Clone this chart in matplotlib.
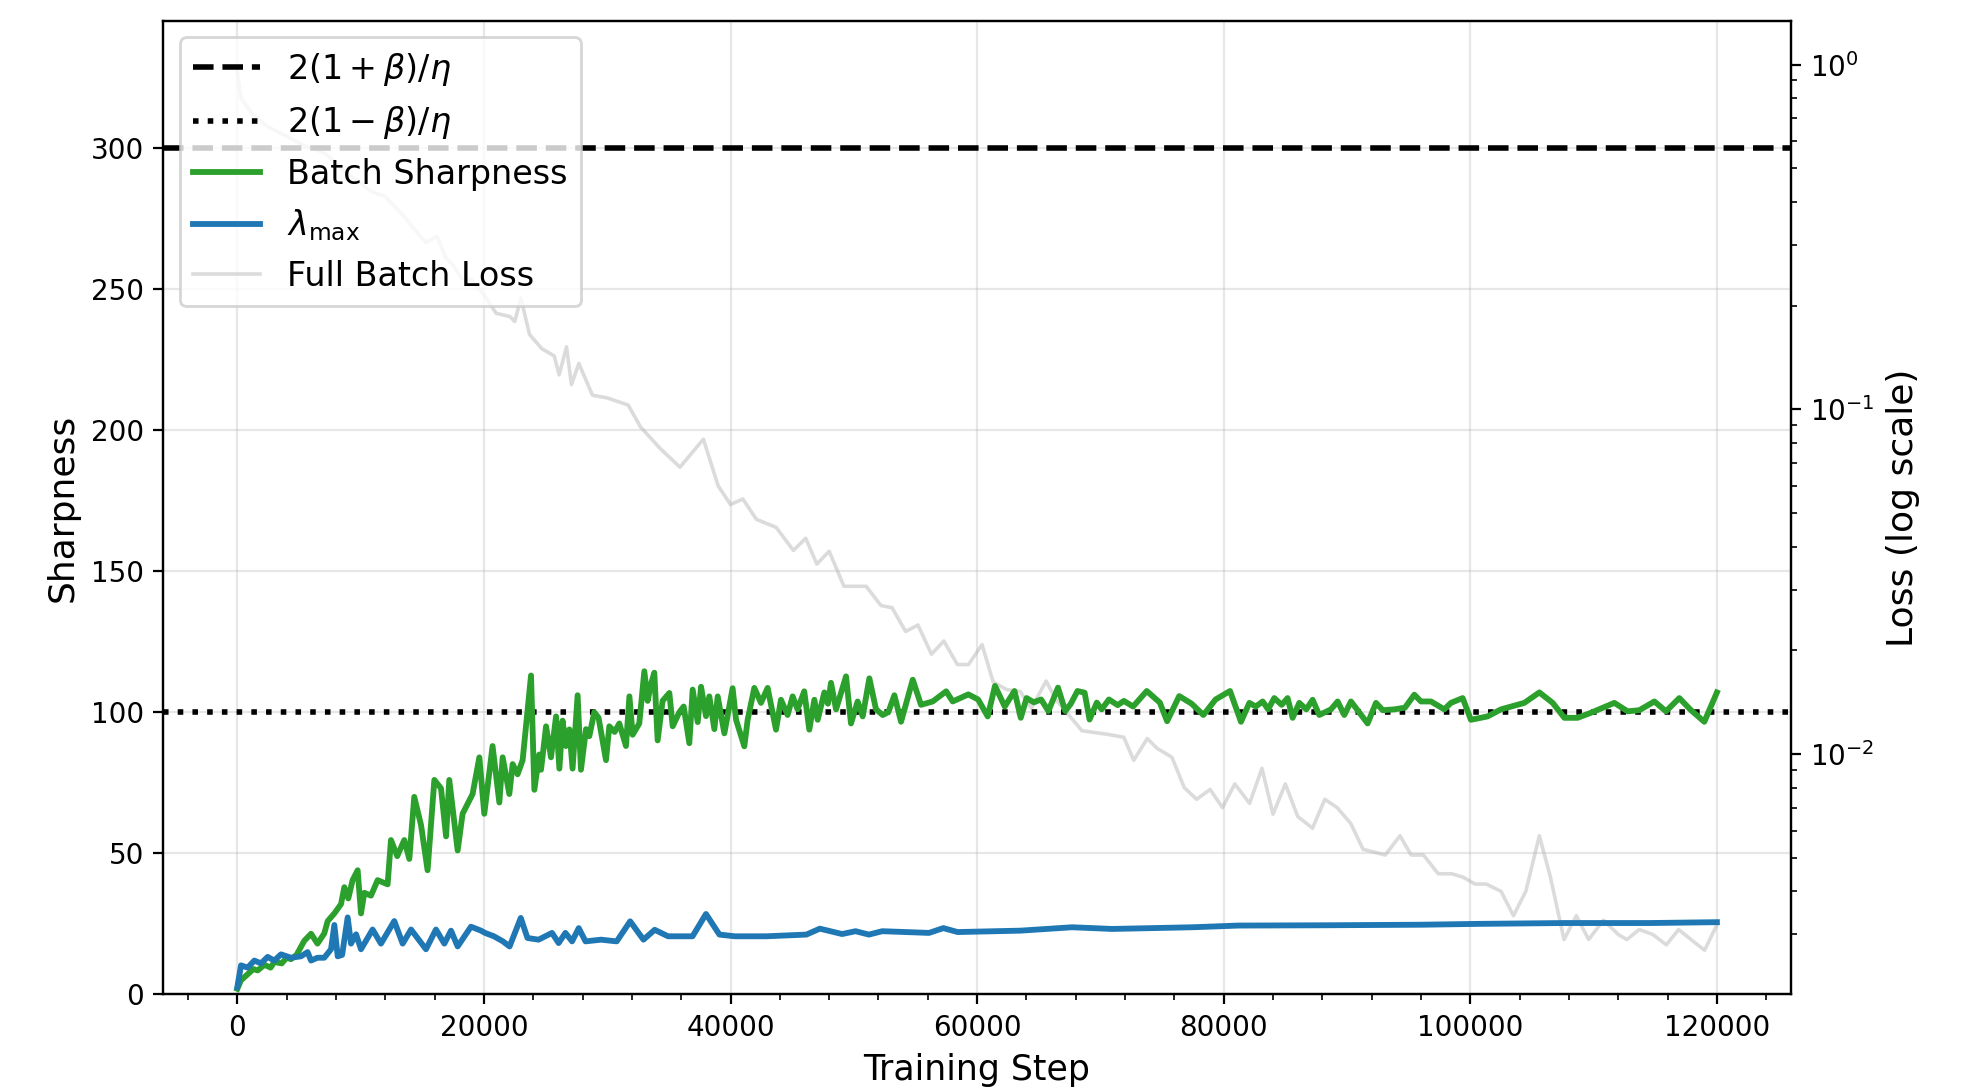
import numpy as np
import matplotlib.pyplot as plt
from matplotlib.ticker import MultipleLocator

# Batch sharpness (green)
sharp_steps = [
    0, 300, 800, 1300, 1650, 2200, 2700, 3000, 3600, 4000, 4350, 4800, 5430, 5980, 6500,
    7050, 7330, 7870, 8410, 8680, 9000,
    9350, 9760, 10030, 10300, 10840, 11380, 12190, 12460, 12970, 13540, 13950, 14350,
    14900, 15430, 15980, 16520, 16930, 17190, 17870, 18270, 19080, 19630, 20030, 20700,
    21250, 21520, 22060, 22330, 22730, 23140, 23820, 24090, 24490, 24630, 25040, 25440,
    25850, 26120, 26380, 26650, 26930, 27190, 27600, 27870, 28280, 28550, 28950, 29300,
    29900, 30170, 30600, 30980, 31520, 31800, 32060, 32600, 33010, 33280, 33550, 33820,
    34090, 34490, 35040, 35310, 35850, 36200, 36660, 36930, 37340, 37610, 38010, 38280,
    38690, 38960, 39500, 40170, 40450, 41120, 41390, 41930, 42470, 43010, 43690, 44090,
    44630, 45040, 45440, 45980, 46390, 46800, 47070, 47610, 47900, 48150, 48560, 49370,
    49770, 50310, 50720, 51260, 51800, 52340, 52800, 53290, 53830, 54780, 55450, 56400,
    57490, 58020, 59290, 60080, 60860, 61450, 62240, 63030, 63540, 64010, 64600, 65190,
    65780, 66560, 67150, 67600, 68140, 68720, 69120, 69710, 70100, 70690, 71400, 71900,
    72650, 73760, 74820, 75410, 76390, 77400, 78350, 79340, 80510, 81400, 82080, 82600,
    83160, 83600, 84100, 84700, 85180, 85590, 86130, 86700, 87210, 87750, 88700, 89240,
    89780, 90320, 91670, 92350, 92900, 93840, 94700, 95460, 96000, 96810, 97890, 98430,
    99380, 100050, 101400, 102490, 104380, 105600, 106680, 107630, 108700, 109790,
    111680, 112760, 113710, 114930, 115870, 116950, 117900, 118980, 120000,
]
sharp_vals = [
    2, 5, 7, 9, 8.5, 10.5, 9.5, 11.5, 11, 13, 12.5, 14, 19, 21.5, 18,
    21.6, 26, 28.7, 32, 38, 34,
    40.5, 44, 28.7, 36, 35, 40.5, 39, 54.7, 49, 54.7, 48, 70,
    60, 44, 76, 73, 56, 76, 51, 64, 71, 84, 64, 88,
    68, 84, 71, 81.6, 78, 83, 113, 72.5, 85, 79.6, 95, 84,
    98.5, 80, 97, 88, 93.9, 80, 106, 79.6, 94, 91.5, 100, 98,
    83, 95, 93, 96, 88, 105.6, 92, 96, 114.5, 104, 110, 114,
    90, 104, 106.8, 95, 100, 102, 89, 108, 96.5, 109, 98.6, 105.6,
    94, 105.6, 92.5, 108.5, 97.3, 87.9, 97.3, 108.6, 103.3, 108.6, 93.8, 104.4,
    99, 105.6, 101, 107.4, 93.8, 104.4, 97.3, 107, 103, 110.4, 101, 112.7,
    96, 103.8, 98.5, 112, 101, 99, 100, 106, 96.6, 111.5, 102.6, 103.8,
    107.4, 103.8, 106.3, 104.5, 98.5, 109.3, 102, 107.5, 98, 105, 103.5, 104.5,
    100.4, 108.7, 100.4, 103, 107.5, 106.9, 97.4, 103.4, 101, 104.5, 102.5, 104,
    102, 107.5, 103.4, 96.8, 105.7, 103, 99, 104.5, 107.5, 96.6, 103.3, 102,
    103.8, 101, 105, 102.6, 105, 98, 103.3, 101, 104.4, 99, 101, 103.8,
    99, 103.8, 96, 103.3, 100.7, 101, 101.6, 106.2, 103.8, 103.8, 101, 103.3,
    105, 97.3, 98.5, 101, 103.3, 107, 103.3, 98, 98, 99.8,
    103.3, 100.3, 100.7, 103.8, 100.3, 105, 100.7, 96.6, 107,
]

# Top Hessian eigenvalue (blue)
lam_steps = [
    0, 300, 840, 1380, 1920, 2460, 3000, 3540, 4350, 5160, 5700, 5980, 6500, 7050,
    7600, 7870, 8140, 8500, 8950, 9220, 9630, 10030, 10970, 11650, 12730, 13410,
    14090, 15300, 16110, 16790, 17330, 17870, 18950, 19760, 20090, 20810, 21540,
    22080, 22990, 23530, 24430, 25520, 26060, 26610, 27150, 27690, 28240, 29500,
    30770, 31860, 32940, 33850, 34930, 36920, 38010, 39100, 40360, 42900, 46150,
    47240, 49050, 50140, 51220, 52310, 56100, 57260, 58420, 63530, 67710, 70960,
    77470, 81180, 88150, 96050, 100700, 107670, 114640, 120000,
]
lam_vals = [
    2.6, 10.3, 9.5, 12, 11, 13.3, 12, 14.2, 13, 13.5, 15, 12, 13, 13,
    16, 24.6, 13.5, 14, 27.3, 18, 21.3, 16, 23, 18, 26, 18,
    23, 16, 23, 18, 22.6, 17, 24, 22.6, 21.8, 20.6, 18.8,
    17, 27.1, 20, 19.4, 21.8, 18.2, 21.8, 18.8, 23.5, 18.8, 19.4,
    18.8, 25.9, 19.4, 22.9, 20.6, 20.6, 28.5, 21.2, 20.6, 20.6, 21.2,
    23.3, 21.4, 22.4, 21.2, 22.4, 21.8, 23.5, 22.1, 22.6, 23.8, 23.2,
    23.8, 24.4, 24.5, 24.7, 25, 25.3, 25.3, 25.6,
]

# Full batch loss (grey, right axis)
loss_steps = [
    0, 300, 1200, 2500, 4000, 5500, 6300, 7200, 8000, 9000, 10000, 10800, 12000,
    13000, 13600, 14300, 15300, 16200, 16900, 17500, 18200, 19000, 20000, 21000,
    22100, 22500, 23000, 23700, 24700, 25700, 26100, 26700, 27100, 27700, 28800,
    30000, 31700, 32700, 34300, 35900, 37800, 39000, 40000, 41000, 42100, 43700,
    45100, 46100, 47000, 48000, 49200, 51000, 52200, 53100, 54200, 55200, 56300,
    57300, 58400, 59300, 60400, 61300, 62400, 63500, 64400, 65600, 66400, 68500,
    70700, 71900, 72700, 73800, 74600, 75800, 76800, 77800, 78900, 79900, 80900,
    82100, 83100, 84000, 85000, 86000, 87200, 88200, 89200, 90300, 91300, 93100,
    94300, 95200, 96200, 97400, 98500, 99400, 100400, 101300, 102500, 103500,
    104500, 105600, 106500, 107600, 108600, 109600, 110800, 112000, 112700, 113700,
    114800, 115900, 116900, 117900, 119000, 120000,
]
loss_vals = [
    0.96, 0.80, 0.72, 0.66, 0.62, 0.58, 0.57, 0.55, 0.52, 0.48, 0.455, 0.43, 0.415,
    0.38, 0.36, 0.335, 0.305, 0.318, 0.275, 0.262, 0.24, 0.238, 0.215, 0.19,
    0.186, 0.18, 0.21, 0.165, 0.15, 0.143, 0.126, 0.152, 0.118, 0.136, 0.11,
    0.108, 0.103, 0.089, 0.077, 0.068, 0.082, 0.06, 0.053, 0.055, 0.048, 0.0455,
    0.039, 0.0423, 0.0356, 0.0388, 0.0307, 0.0307, 0.027, 0.0266, 0.0227, 0.0237, 0.0195,
    0.0213, 0.0182, 0.0182, 0.0208, 0.0162, 0.0154, 0.0152, 0.0136, 0.0163, 0.0144, 0.0117,
    0.0114, 0.0112, 0.0096, 0.0111, 0.0104, 0.0098, 0.0080, 0.0074, 0.0079, 0.0070, 0.0082,
    0.0072, 0.0091, 0.0067, 0.0082, 0.0066, 0.0061, 0.0074, 0.0070, 0.0063, 0.0053, 0.0051,
    0.0058, 0.0051, 0.0051, 0.0045, 0.0045, 0.0044, 0.0042, 0.0042, 0.0040, 0.0034,
    0.0040, 0.0058, 0.0044, 0.0029, 0.0034, 0.0029, 0.0033, 0.0030, 0.0029, 0.0031,
    0.0030, 0.0028, 0.0031, 0.0029, 0.0027, 0.0032,
]

upper_thr = 300  # 2(1+beta)/eta
lower_thr = 100  # 2(1-beta)/eta

fig, ax1 = plt.subplots(figsize=(9.84, 5.44), dpi=200)
fig.subplots_adjust(left=0.083, right=0.910, top=0.981, bottom=0.086)
ax2 = ax1.twinx()
# keep sharpness axis (and its legend) above the loss curve
ax1.set_zorder(ax2.get_zorder() + 1)
ax1.patch.set_visible(False)

loss_line, = ax2.plot(loss_steps, loss_vals, color='lightgray', lw=1.3, alpha=0.8,
                      label='Full Batch Loss')
ax2.set_yscale('log')
ax2.set_ylim(0.00201, 1.342)
ax2.set_ylabel('Loss (log scale)', fontsize=13)
ax2.tick_params(labelsize=10)

h1 = ax1.axhline(upper_thr, color='black', ls='--', lw=2.0, label=r'$2(1+\beta)/\eta$')
h2 = ax1.axhline(lower_thr, color='black', ls=':', lw=2.0, label=r'$2(1-\beta)/\eta$')
h3, = ax1.plot(sharp_steps, sharp_vals, color='tab:green', lw=2.1, label='Batch Sharpness')
h4, = ax1.plot(lam_steps, lam_vals, color='tab:blue', lw=2.1, label=r'$\lambda_{\max}$')

ax1.set_xlim(-6000, 126000)
ax1.set_ylim(0, 345)
ax1.xaxis.set_minor_locator(MultipleLocator(4000))
ax1.grid(True, alpha=0.3)
ax1.tick_params(labelsize=10)
ax1.set_xlabel('Training Step', fontsize=12.5)
ax1.set_ylabel('Sharpness', fontsize=13)

ax1.legend(handles=[h1, h2, h3, h4, loss_line], loc='upper left', fontsize=12)

fig.savefig('out.png', dpi=200)
